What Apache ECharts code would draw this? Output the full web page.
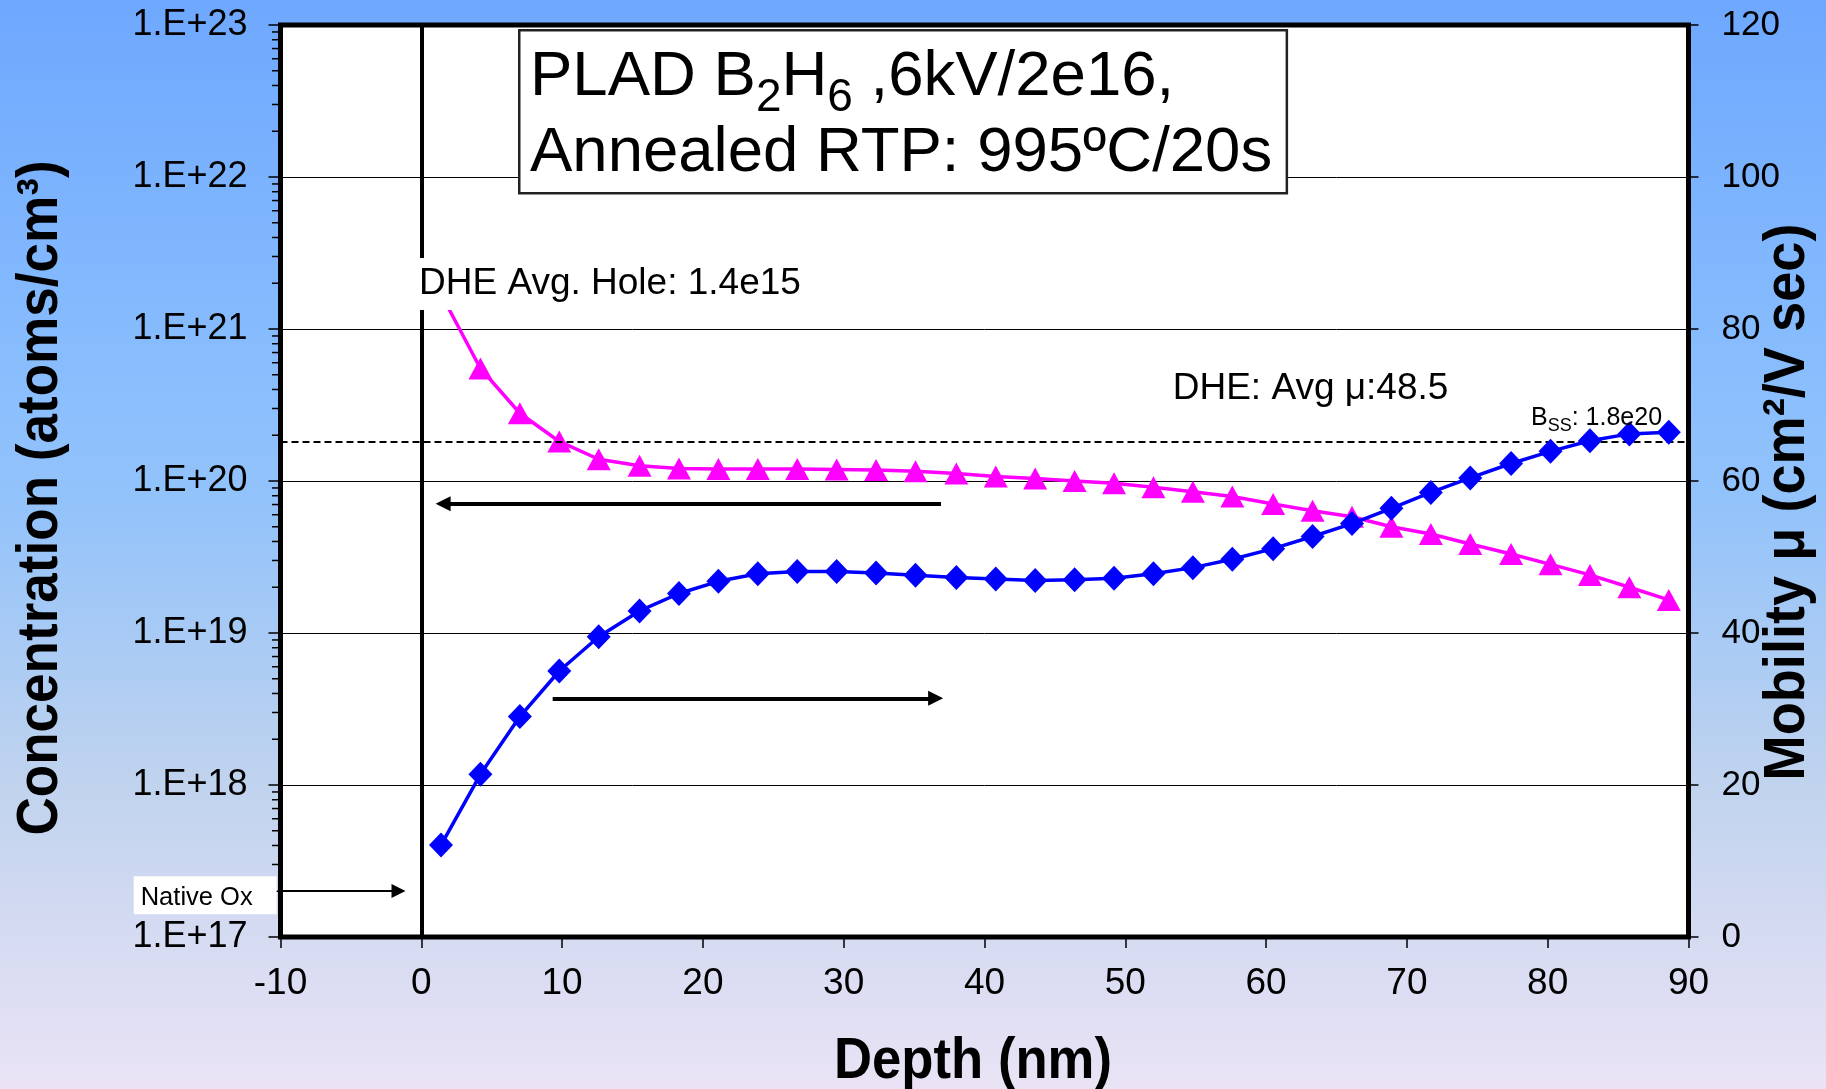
<!DOCTYPE html>
<html>
<head>
<meta charset="utf-8">
<script src="https://cdn.jsdelivr.net/npm/echarts@6/dist/echarts.min.js"></script>
<style>
html,body{margin:0;padding:0;width:1826px;height:1089px;overflow:hidden;}
#chart{width:1826px;height:1089px;}
</style>
</head>
<body>
<div id="chart"></div>
<script>
// ---- data ----
const depthNm = [1.4, 4.2, 7.0, 9.8, 12.6, 15.5, 18.3, 21.1, 23.9, 26.7, 29.5, 32.3, 35.1, 38.0, 40.8, 43.6,
                 46.4, 49.2, 52.0, 54.8, 57.6, 60.5, 63.3, 66.1, 68.9, 71.7, 74.5, 77.4, 80.2, 83.0, 85.8, 88.6];
const holeConcentration = [1.7e21, 5.5e20, 2.79e20, 1.82e20, 1.39e20, 1.26e20, 1.21e20, 1.20e20, 1.20e20, 1.20e20,
                 1.19e20, 1.18e20, 1.16e20, 1.12e20, 1.07e20, 1.04e20, 1.0e20, 9.66e19, 9.1e19, 8.5e19,
                 7.9e19, 7.06e19, 6.38e19, 5.82e19, 5.0e19, 4.48e19, 3.85e19, 3.31e19, 2.83e19, 2.41e19, 2.0e19, 1.65e19];
const holeMobility = [12.1, 21.4, 29.0, 35.0, 39.5, 42.9, 45.2, 46.8, 47.8, 48.1, 48.1, 47.9, 47.6, 47.3, 47.1, 46.9,
                 47.0, 47.2, 47.8, 48.6, 49.7, 51.1, 52.7, 54.4, 56.4, 58.5, 60.4, 62.3, 63.9, 65.3, 66.2, 66.4];
const leftTickLabels = ['1.E+17', '1.E+18', '1.E+19', '1.E+20', '1.E+21', '1.E+22', '1.E+23'];
const leftTickExponents = [17, 18, 19, 20, 21, 22, 23];
const minorMultipliers = [2, 3, 4, 5, 6, 7, 8, 9];
const solidSolubility = 1.8e20;
const depthRange = [-10, 90];
const mobilityRange = [0, 120];

// annotation arrows (data coordinates: depth, mobility)
const arrowToLeftAxis = [[36.91, 57.0], [1.55, 57.0]];
const arrowToRightAxis = [[9.33, 31.4], [36.53, 31.4]];
const arrowNativeOx = [[-10, 6.05], [-1.62, 6.05]];

// ---- build ----
const FONT = '"Liberation Sans", Arial, Helvetica, sans-serif';
const minorTickValues = [];
leftTickExponents.slice(0, -1).forEach(e => minorMultipliers.forEach(m => minorTickValues.push(m * Math.pow(10, e))));

const chart = echarts.init(document.getElementById('chart'), null, {renderer: 'canvas', width: 1826, height: 1089});

const option = {
  animation: false,
  backgroundColor: new echarts.graphic.LinearGradient(0, 0, 0, 1, [
    {offset: 0, color: '#6ea8fe'},
    {offset: 0.37, color: '#8bbffd'},
    {offset: 0.47, color: '#94c3fa'},
    {offset: 0.72, color: '#c0d3ee'},
    {offset: 1, color: '#eae3f5'}
  ]),
  grid: {
    left: 280.5, right: 137.5, top: 25, bottom: 152,
    show: true, backgroundColor: '#ffffff', borderColor: '#000000', borderWidth: 5,
    containLabel: false, outerBoundsMode: 'none'
  },
  xAxis: {
    type: 'value', min: depthRange[0], max: depthRange[1], interval: 10,
    axisLine: {show: false, onZero: false},
    axisTick: {show: true, length: 11, lineStyle: {color: '#000', width: 1.5}},
    axisLabel: {fontSize: 37, color: '#000', fontFamily: FONT, margin: 28, showMinLabel: true, showMaxLabel: true},
    splitLine: {show: false}
  },
  yAxis: [
    {
      type: 'log', logBase: 10, min: 1e17, max: 1e23, interval: 1, position: 'left',
      axisLine: {show: false, onZero: false},
      axisTick: {show: true, length: 12, lineStyle: {color: '#000', width: 1.5}},
      axisLabel: {
        fontSize: 36, color: '#000', fontFamily: FONT, margin: 33, showMinLabel: true, showMaxLabel: true,
        formatter: v => leftTickLabels[leftTickExponents.indexOf(Math.round(Math.log10(v)))]
      },
      splitLine: {show: true, lineStyle: {color: '#000', width: 1}}
    },
    {
      type: 'value', min: mobilityRange[0], max: mobilityRange[1], interval: 20, position: 'right',
      axisLine: {show: false, onZero: false},
      axisTick: {show: true, length: 10, lineStyle: {color: '#000', width: 1.5}},
      axisLabel: {fontSize: 35, color: '#000', fontFamily: FONT, margin: 33, showMinLabel: true, showMaxLabel: true},
      splitLine: {show: false}
    }
  ],
  series: [
    {
      name: 'minor ticks', type: 'custom', yAxisIndex: 0, silent: true, clip: false, z: 3,
      data: minorTickValues.map(v => [depthRange[0], v]),
      renderItem: (params, api) => {
        const p = api.coord([api.value(0), api.value(1)]);
        return {type: 'line', shape: {x1: p[0] - 8.5, y1: p[1], x2: p[0], y2: p[1]},
                style: {stroke: '#000', lineWidth: 1.5}};
      }
    },
    {
      name: 'DHE hole concentration', type: 'line', yAxisIndex: 0,
      data: depthNm.map((d, i) => [d, holeConcentration[i]]),
      symbol: 'triangle', symbolSize: [24, 22],
      itemStyle: {color: '#ff00ff'},
      lineStyle: {color: '#ff00ff', width: 3.5},
      emphasis: {disabled: true}, silent: true, z: 4,
      markLine: {
        silent: true, symbol: ['none', 'none'], label: {show: false}, animation: false,
        emphasis: {disabled: true},
        data: [
          {xAxis: 0, lineStyle: {color: '#000', width: 4, type: 'solid'}},
          {yAxis: solidSolubility, lineStyle: {color: '#000', width: 2, type: [7, 4]}}
        ]
      }
    },
    {
      name: 'DHE hole mobility', type: 'line', yAxisIndex: 1,
      data: depthNm.map((d, i) => [d, holeMobility[i]]),
      symbol: 'diamond', symbolSize: [24, 25],
      itemStyle: {color: '#0000ff'},
      lineStyle: {color: '#0000ff', width: 3.5},
      emphasis: {disabled: true}, silent: true, z: 5,
      markLine: {
        silent: true, symbol: ['none', 'triangle'], symbolSize: [15, 15], label: {show: false}, animation: false,
        emphasis: {disabled: true},
        lineStyle: {color: '#000', width: 4, type: 'solid'},
        data: [
          [{coord: arrowToLeftAxis[0]}, {coord: arrowToLeftAxis[1]}],
          [{coord: arrowToRightAxis[0]}, {coord: arrowToRightAxis[1]}],
          [{coord: arrowNativeOx[0], lineStyle: {color: '#000', width: 2, type: 'solid'}},
           {coord: arrowNativeOx[1], symbolSize: [14, 14], lineStyle: {color: '#000', width: 2, type: 'solid'}}]
        ]
      }
    }
  ],
  graphic: [
    { // title box
      type: 'text', x: 520.5, y: 31.4, z: 100, silent: true,
      style: {
        text: '{a|PLAD B}{s|2}{a|H}{s|6}{a| ,6kV/2e16,}\n{a|Annealed RTP: 995ºC/20s}',
        align: 'left', textAlign: 'left', verticalAlign: 'top', textVerticalAlign: 'top',
        backgroundColor: '#ffffff', borderColor: '#222', borderWidth: 2.5,
        padding: [8.5, 10, 0, 9.5], width: 745.6,
        rich: {
          a: {fontSize: 63.5, fontFamily: FONT, fill: '#000', color: '#000', lineHeight: 76},
          s: {fontSize: 46, fontFamily: FONT, fill: '#000', color: '#000', lineHeight: 76, padding: [40, 0, 0, 0]}
        }
      }
    },
    { // DHE avg hole label
      type: 'text', x: 414, y: 284, z: 100, silent: true,
      style: {
        text: 'DHE Avg. Hole: 1.4e15', fontSize: 37, fontFamily: FONT, fill: '#000',
        align: 'left', textAlign: 'left', verticalAlign: 'middle', textVerticalAlign: 'middle',
        backgroundColor: '#ffffff', padding: [7, 6, 1, 5], lineHeight: 44
      }
    },
    { // DHE avg mobility label
      type: 'text', x: 1172.7, y: 389, z: 100, silent: true,
      style: {
        text: 'DHE: Avg μ:48.5', fontSize: 37, fontFamily: FONT, fill: '#000',
        align: 'left', textAlign: 'left', verticalAlign: 'middle', textVerticalAlign: 'middle'
      }
    },
    { // B_ss label
      type: 'text', x: 1531, y: 404, z: 100, silent: true,
      style: {
        text: '{a|B}{s|SS}{a|: 1.8e20}',
        align: 'left', textAlign: 'left', verticalAlign: 'top', textVerticalAlign: 'top',
        rich: {
          a: {fontSize: 25, fontFamily: FONT, fill: '#000', color: '#000', lineHeight: 28},
          s: {fontSize: 18, fontFamily: FONT, fill: '#000', color: '#000', lineHeight: 28, padding: [16, 0, 0, 0]}
        }
      }
    },
    { // Native Ox
      type: 'text', x: 133.7, y: 876.3, z: 100, silent: true,
      style: {
        text: 'Native Ox', fontSize: 25.5, fontFamily: FONT, fill: '#000',
        align: 'left', textAlign: 'left', verticalAlign: 'top', textVerticalAlign: 'top',
        backgroundColor: '#ffffff', padding: [7, 24, 1, 7], lineHeight: 30
      }
    },
    { // x axis title
      type: 'text', x: 973, y: 1062, z: 100, silent: true, scaleX: 0.908,
      style: {
        text: 'Depth (nm)', fontSize: 58, fontWeight: 'bold', fontFamily: FONT, fill: '#000',
        align: 'center', textAlign: 'center', verticalAlign: 'middle', textVerticalAlign: 'middle'
      }
    },
    { // left axis title
      type: 'text', x: 41, y: 498, z: 100, silent: true, rotation: Math.PI / 2, scaleX: 0.915,
      style: {
        text: 'Concentration (atoms/cm³)', fontSize: 58, fontWeight: 'bold', fontFamily: FONT, fill: '#000',
        align: 'center', textAlign: 'center', verticalAlign: 'middle', textVerticalAlign: 'middle'
      }
    },
    { // right axis title
      type: 'text', x: 1788, y: 502, z: 100, silent: true, rotation: Math.PI / 2, scaleX: 0.934,
      style: {
        text: 'Mobility μ (cm²/V sec)', fontSize: 58, fontWeight: 'bold', fontFamily: FONT, fill: '#000',
        align: 'center', textAlign: 'center', verticalAlign: 'middle', textVerticalAlign: 'middle'
      }
    }
  ]
};
chart.setOption(option);
</script>
</body>
</html>
